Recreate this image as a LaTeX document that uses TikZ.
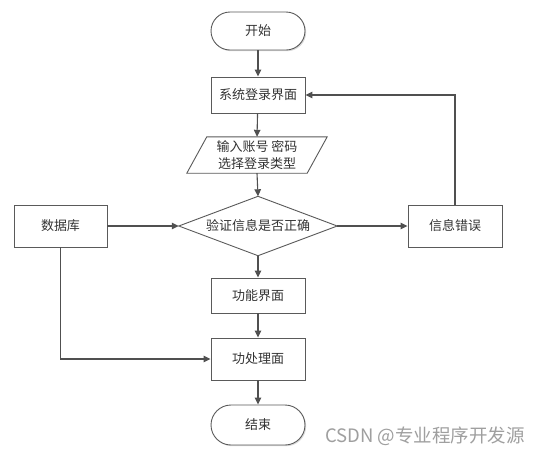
\documentclass[tikz,border=0pt]{standalone}
\usepackage{fontspec}
\newfontfamily\cjk{Noto Sans CJK SC}
\usetikzlibrary{arrows.meta,shadows}
\definecolor{lnc}{HTML}{505050}
\definecolor{bdc}{HTML}{5A5A5A}
\definecolor{txc}{HTML}{333333}
\tikzset{
  base/.style={font=\cjk\fontsize{13}{16}\selectfont, text=txc, align=center, inner sep=2pt},
  box/.style={base, draw=bdc, line width=0.9pt, fill=white, minimum width=94pt,
    drop shadow={shadow xshift=1.2pt, shadow yshift=-1.2pt, fill=gray!35, opacity=0.8}},
  term/.style={box, rounded corners=19pt},
  ghost/.style={base},
  shapeline/.style={draw=bdc, line width=0.9pt},
  arr/.style={draw=lnc, line width=1.1pt, -{Triangle[length=7pt,width=6.5pt]}},
  ln/.style={draw=lnc, line width=1.1pt}
}
\begin{document}
\begin{tikzpicture}[x=1pt,y=-1pt]
\fill[white] (0,0) rectangle (549,448);
\useasboundingbox (0,0) rectangle (549,448);

\node[term, minimum height=38pt] (start) at (258,31) {开始};
\node[box, minimum height=36pt] (login) at (258,95) {系统登录界面};
\node[ghost, minimum width=120pt, minimum height=36pt] (input) at (257,155) {输入账号 密码\\[1pt]选择登录类型};
\draw[shapeline] ([xshift=-10pt]input.south west) -- ([xshift=-10pt]input.south east)
  -- ([xshift=10pt]input.north east) -- ([xshift=10pt]input.north west) -- cycle;
\node[ghost, minimum width=158pt, minimum height=59pt] (check) at (258,226) {验证信息是否正确};
\draw[shapeline] (check.north) -- (check.east) -- (check.south) -- (check.west) -- cycle;
\node[box, minimum width=93pt, minimum height=42pt] (db) at (60.5,226) {数据库};
\node[box, minimum height=42pt] (err) at (455,226) {信息错误};
\node[box, minimum height=35pt] (func) at (258,295.5) {功能界面};
\node[box, minimum height=42pt] (proc) at (258,359) {功处理面};
\node[term, minimum height=40pt, rounded corners=20pt] (end) at (258,425) {结束};

\node[font=\cjk\fontsize{18.5}{22}\selectfont, text=gray!75, inner sep=0pt] (wm) at (425,436) {CSDN @专业程序开发源};

\draw[arr] (start) -- (login);
\draw[arr] (login) -- (input.north);
\draw[arr] (input.south) -- (check.north);
\draw[arr] (db.east) -- (check.west);
\draw[arr] (check.east) -- (err.west);
\draw[arr] (err.north) |- (login.east);
\draw[arr] (check.south) -- (func.north);
\draw[arr] (func) -- (proc);
\draw[arr] (db.south) |- (proc.west);
\draw[arr] (proc) -- (end);
\end{tikzpicture}
\end{document}
